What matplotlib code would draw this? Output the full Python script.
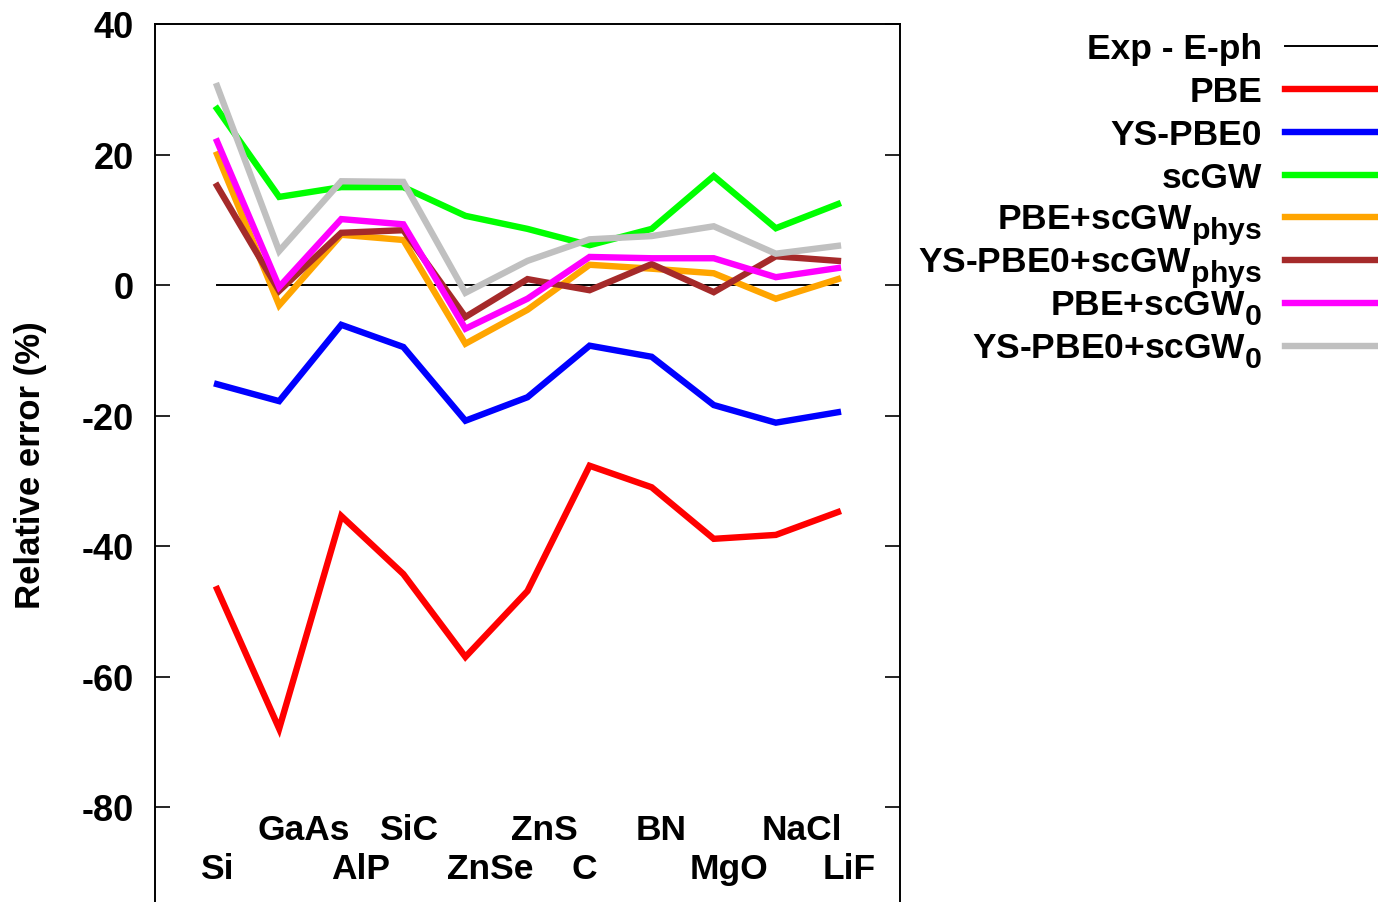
import numpy as np
import matplotlib
matplotlib.use('Agg')
import matplotlib.pyplot as plt
import matplotlib._mathtext as mt
from matplotlib.lines import Line2D

# materials, in plot order
materials = ['Si', 'GaAs', 'AlP', 'SiC', 'ZnSe', 'ZnS', 'C', 'BN', 'MgO', 'NaCl', 'LiF']

# relative error (%) per method
exp_eph = [0, 0, 0, 0, 0, 0, 0, 0, 0, 0, 0]
pbe = [-46.6, -68.0, -35.4, -44.3, -57.0, -46.9, -27.7, -31.0, -38.9, -38.3, -34.8]
ys_pbe0 = [-15.2, -17.8, -6.1, -9.5, -20.8, -17.2, -9.3, -11.0, -18.4, -21.1, -19.5]
scgw = [27.0, 13.5, 15.0, 15.0, 10.6, 8.6, 6.1, 8.6, 16.7, 8.7, 12.4]
pbe_scgw_phys = [20.0, -3.1, 7.7, 6.9, -9.0, -3.8, 3.1, 2.5, 1.8, -2.1, 0.9]
ys_pbe0_scgw_phys = [15.2, -0.9, 8.0, 8.4, -4.9, 0.9, -0.8, 3.2, -1.1, 4.4, 3.7]
pbe_scgw0 = [22.0, -0.3, 10.1, 9.3, -6.7, -2.1, 4.3, 4.1, 4.1, 1.2, 2.6]
ys_pbe0_scgw0 = [30.5, 5.2, 15.9, 15.8, -1.2, 3.7, 7.0, 7.5, 9.0, 4.8, 6.0]

labels = ['Exp - E-ph', 'PBE', 'YS-PBE0', 'scGW',
          r'PBE+scGW$_\mathbf{phys}$', r'YS-PBE0+scGW$_\mathbf{phys}$',
          r'PBE+scGW$_\mathbf{0}$', r'YS-PBE0+scGW$_\mathbf{0}$']

# layout of the material names (x shift from the point, and row)
name_shift = [0.0, 0.39, 0.32, 0.08, 0.40, 0.27, -0.08, 0.15, 0.24, 0.42, 0.18]
name_row_y = [-89.4, -83.4]

# gnuplot subscripts are almost full size and sit lower
mt.SHRINK_FACTOR = 0.85
mt.FontConstantsBase.sub1 = 0.55
mt.FontConstantsBase.sub2 = 0.7

plt.rcParams['font.family'] = ['Liberation Sans', 'DejaVu Sans']
plt.rcParams['font.weight'] = 'bold'
plt.rcParams['axes.unicode_minus'] = False
plt.rcParams['mathtext.fontset'] = 'custom'
plt.rcParams['mathtext.bf'] = 'Liberation Sans:bold'
plt.rcParams['mathtext.rm'] = 'Liberation Sans:bold'
plt.rcParams['mathtext.default'] = 'bf'

W, H = 1378, 903
fig = plt.figure(figsize=(W / 100, H / 100), dpi=100)

ymin, ymax = -100, 40
top_px, zero_px, px_per = 25, 286, 130.5 / 20
bot_px = zero_px - ymin * px_per
ax = fig.add_axes([155 / W, 1 - bot_px / H, (900 - 155) / W, (bot_px - top_px) / H])

x = np.arange(1, len(materials) + 1)
series = [exp_eph, pbe, ys_pbe0, scgw, pbe_scgw_phys, ys_pbe0_scgw_phys, pbe_scgw0, ys_pbe0_scgw0]
colors = ['black', '#FF0000', '#0000FF', '#00FF00', '#FFA500', '#A52A2A', '#FF00FF', '#C0C0C0']
widths = [1.4, 4.6, 4.6, 4.6, 4.6, 4.6, 4.6, 4.6]

for i in range(len(series)):
    ax.plot(x, series[i], color=colors[i], lw=widths[i], solid_joinstyle='miter')

for i, name in enumerate(materials):
    ax.text(x[i] + name_shift[i], name_row_y[i % 2 == 1], name,
            ha='center', va='center', fontsize=25.5, fontweight='bold')

ax.set_xlim(0, 12)
ax.set_ylim(ymin, ymax)
ax.set_xticks([])
ax.set_yticks([40, 20, 0, -20, -40, -60, -80])
ax.tick_params(axis='y', direction='in', length=11, width=1.2, right=True,
               labelsize=26, pad=15)
for s in ax.spines.values():
    s.set_linewidth(1.4)
ax.set_ylabel('Relative error (%)', fontsize=25, fontweight='bold')
ax.yaxis.set_label_coords(-0.145, 0.518)

# legend, gnuplot style: text right, line sample after it
leg_y = [47, 90, 133, 176, 218, 261, 304, 347]
for i, lab in enumerate(labels):
    yy = 1 - leg_y[i] / H
    fig.text(1262 / W, 1 - (leg_y[i] + 12) / H, lab, ha='right', va='baseline',
             fontsize=25.5, fontweight='bold')
    fig.add_artist(Line2D([1285 / W, 1378 / W], [yy, yy], color=colors[i],
                          lw=widths[i], transform=fig.transFigure))

fig.savefig('out.png', dpi=100)
